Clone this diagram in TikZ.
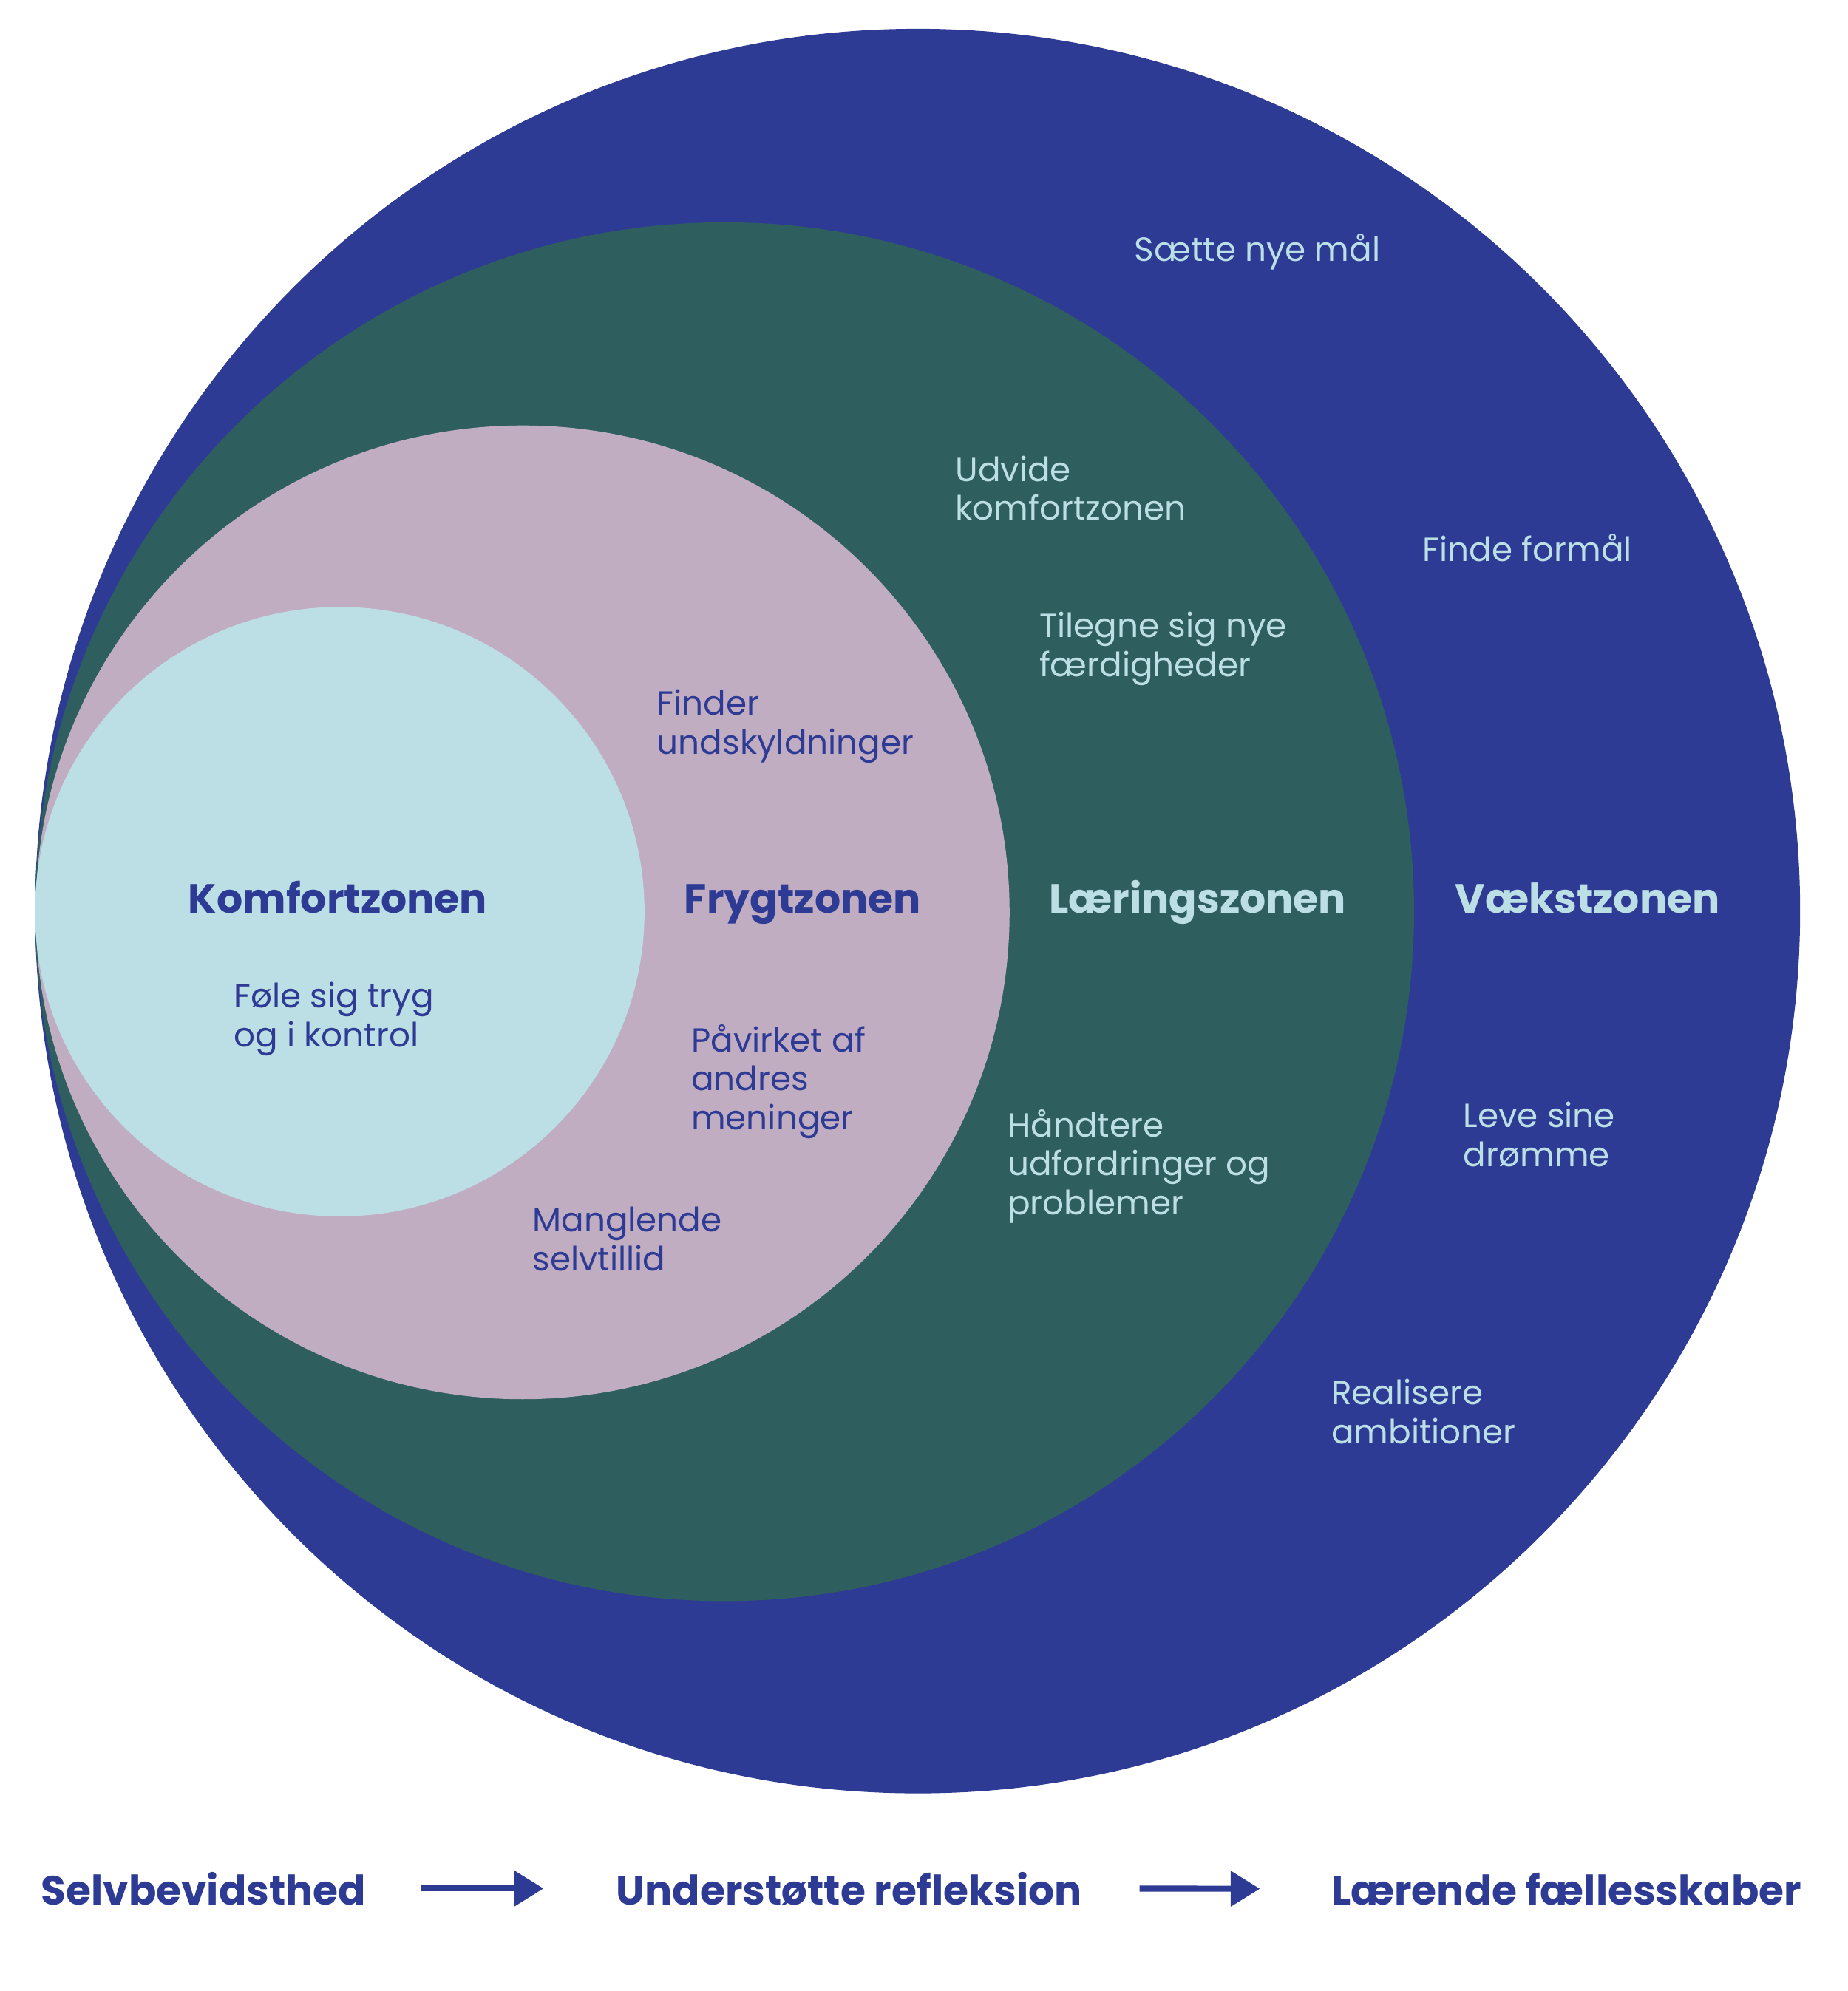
\documentclass[tikz,border=0pt]{standalone}
\usepackage{fontspec}
\setmainfont{Poppins}
\usepackage{tikz}
\usetikzlibrary{arrows.meta}

\definecolor{vblue}{HTML}{2E3B95}
\definecolor{lgreen}{HTML}{2F5E5F}
\definecolor{fpink}{HTML}{C1ADC1}
\definecolor{klight}{HTML}{BCDFE6}

\begin{document}
\begin{tikzpicture}[
  x=0.02cm, y=-0.02cm,
  >={Triangle[length=0.46cm, width=0.54cm]},
  zone/.style={circle, inner sep=0pt, draw=none},
  title/.style={font=\fontsize{18.3}{22}\selectfont\bfseries, anchor=base, inner sep=0pt},
  lab/.style={font=\fontsize{15}{17.4}\selectfont, align=left, anchor=base west, inner sep=0pt},
  flow/.style={font=\fontsize{18.25}{22}\selectfont\bfseries, text=vblue, anchor=base west, inner sep=0pt}
]
  \useasboundingbox (0,0) rectangle (1455,1568);

  % zones, largest first
  \node[zone, fill=vblue, minimum size=27.8cm] (vaekst) at (722.5,717.5) {};
  \node[zone, fill=lgreen, minimum size=21.72cm] (laering) at (570.5,718) {};
  \node[zone, fill=fpink, minimum size=15.34cm] (frygt) at (411.5,718.5) {};
  \node[zone, fill=klight, minimum size=9.6cm] (komfort) at (267.5,718) {};

  % zone titles
  \node[title, text=vblue] (tkomfort) at (266,719) {Komfortzonen};
  \node[title, text=vblue] (tfrygt) at (632,719) {Frygtzonen};
  \node[title, text=klight] (tlaering) at (943,719) {Læringszonen};
  \node[title, text=klight] (tvaekst) at (1250,719) {Vækstzonen};

  % labels (base = last line)
  \node[lab, text=vblue] (tryg) at (184,824.2) {Føle sig tryg\\og i kontrol};
  \node[lab, text=vblue] (undskyld) at (517,593.7) {Finder\\undskyldninger};
  \node[lab, text=vblue] (andres) at (544,889.4) {Påvirket af\\andres\\meninger};
  \node[lab, text=vblue] (selvtillid) at (419,1000.7) {Manglende\\selvtillid};
  \node[lab, text=klight] (udvide) at (752,409.7) {Udvide\\komfortzonen};
  \node[lab, text=klight] (tilegne) at (818,532.7) {Tilegne sig nye\\færdigheder};
  \node[lab, text=klight] (haandtere) at (793,956.4) {Håndtere\\udfordringer og\\problemer};
  \node[lab, text=klight] (maal) at (893,206) {Sætte nye mål};
  \node[lab, text=klight] (formaal) at (1120,442) {Finde formål};
  \node[lab, text=klight] (droemme) at (1152,918.7) {Leve sine\\drømme};
  \node[lab, text=klight] (ambition) at (1048,1136.7) {Realisere\\ambitioner};

  % bottom row
  \node[flow] (selvbev) at (32,1500) {Selvbevidsthed};
  \node[flow] (refleks) at (485,1500) {Understøtte refleksion};
  \node[flow] (faelles) at (1048,1500) {Lærende fællesskaber};

  \draw[->, vblue, line width=2.7pt, shorten <=0.86cm, shorten >=1.14cm] (selvbev.east) -- (refleks.west);
  \draw[->, vblue, line width=2.7pt, shorten <=0.9cm, shorten >=1.12cm] (refleks.east) -- (faelles.west);
\end{tikzpicture}
\end{document}
